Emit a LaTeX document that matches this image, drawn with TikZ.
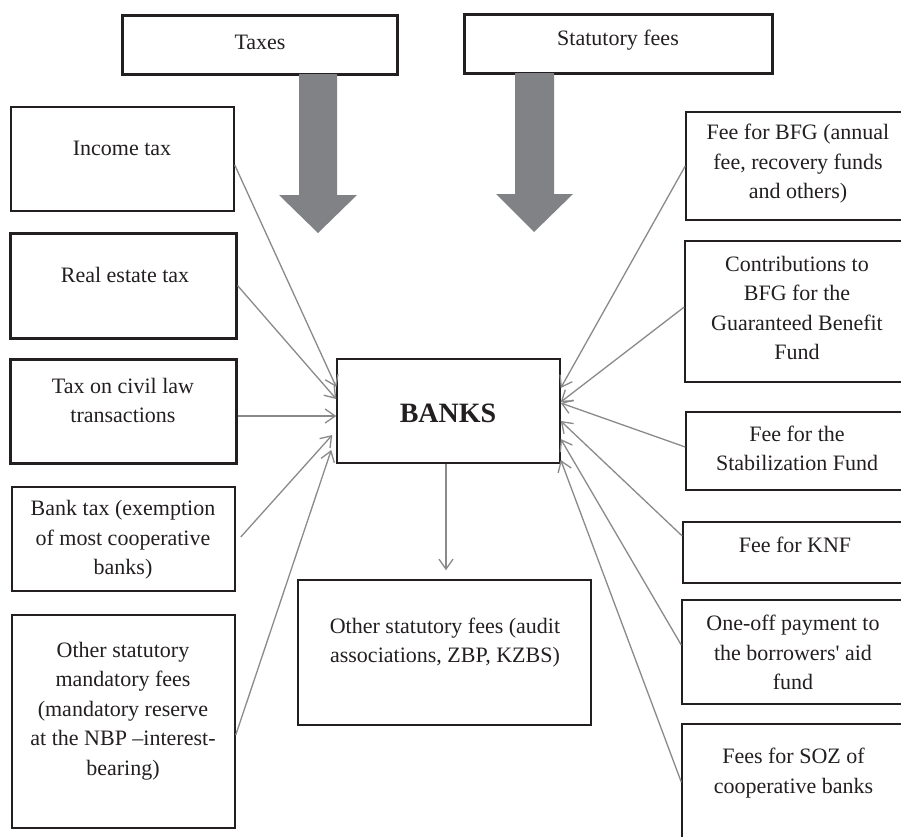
\documentclass[tikz,border=0pt]{standalone}
\usepackage{fontspec}
\setmainfont{Liberation Serif}
\usetikzlibrary{arrows.meta}
\definecolor{ink}{HTML}{231F20}
\definecolor{connc}{HTML}{8A8A8C}
\definecolor{arrowc}{HTML}{808285}
\begin{document}
\begin{tikzpicture}[x=1pt,y=-1pt,
  box/.style={draw=ink, line width=1.5pt, inner sep=0pt},
  thickbox/.style={box, line width=3pt},
  lbl/.style={text=ink, font=\fontsize{22}{29.5}\selectfont, align=center, inner sep=0pt},
  conn/.style={draw=connc, line width=1.3pt, -{Straight Barb[length=10pt,width=14pt]}},
  bigarrow/.style={fill=arrowc}]
\useasboundingbox (0,0) rectangle (901,836);
\clip (0,0) rectangle (901,836);
\fill[white] (0,0) rectangle (901,836);

% top boxes
\node[thickbox, minimum width=275pt, minimum height=59pt] (taxes) at (259.5,44.5) {};
\node[lbl] (ttaxes) at (260,42) {Taxes};
\node[thickbox, minimum width=308pt, minimum height=59pt] (stat) at (618,43.5) {};
\node[lbl] (tstat) at (618,40) {Statutory fees};

% big arrows
\fill[bigarrow] (299,74) -- (337,74) -- (337,195) -- (357,195) -- (318,233) -- (279,195) -- (299,195) -- cycle;
\fill[bigarrow] (515,73) -- (554,73) -- (554,194) -- (573,194) -- (534,232) -- (496,194) -- (515,194) -- cycle;

% left column
\node[box, minimum width=223pt, minimum height=104pt] (inc) at (122.5,159) {};
\node[lbl] (tinc) at (122,148) {Income tax};
\node[thickbox, minimum width=226pt, minimum height=105pt] (re) at (123,285.5) {};
\node[lbl] (tre) at (125,275) {Real estate tax};
\node[thickbox, minimum width=226pt, minimum height=104pt] (civ) at (123,411) {};
\node[lbl] (tciv) at (123,400.5) {Tax on civil law\\transactions};
\node[box, minimum width=223pt, minimum height=104pt] (btax) at (123.5,539) {};
\node[lbl] (tbtax) at (123,540) {Bank tax (exemption\\of most cooperative\\banks)};
\node[box, minimum width=223pt, minimum height=213pt] (oth) at (123.5,721.5) {};
\node[lbl] (toth) at (123,711) {Other statutory\\mandatory fees\\(mandatory reserve\\at the NBP –interest-\\bearing)};

% centre
\node[box, minimum width=223pt, minimum height=104pt] (bank) at (448.5,411) {};
\node[text=ink, inner sep=0pt, font=\fontsize{28}{32}\selectfont\bfseries] (tbank) at (448,413) {BANKS};
\node[box, minimum width=293pt, minimum height=145pt] (ofee) at (444.5,652.5) {};
\node[lbl] (tofee) at (445,642.5) {Other statutory fees (audit\\associations, ZBP, KZBS)};

% right column
\node[box, minimum width=224pt, minimum height=108pt] (bfg) at (798,166) {};
\node[lbl] (tbfg) at (798,164) {Fee for BFG (annual\\fee, recovery funds\\and others)};
\node[box, minimum width=225pt, minimum height=141pt] (contr) at (797.5,311.5) {};
\node[lbl] (tcontr) at (797,308) {Contributions to\\BFG for the\\Guaranteed Benefit\\Fund};
\node[box, minimum width=224pt, minimum height=78pt] (stab) at (798,451) {};
\node[lbl] (tstab) at (797,448.5) {Fee for the\\Stabilization Fund};
\node[box, minimum width=227pt, minimum height=61pt] (knf) at (796.5,552.5) {};
\node[lbl] (tknf) at (795,545) {Fee for KNF};
\node[box, minimum width=228pt, minimum height=104pt] (oneoff) at (796,652) {};
\node[lbl] (toneoff) at (793,652.5) {One-off payment to\\the borrowers\textquotesingle{} aid\\fund};
\node[box, minimum width=228pt, minimum height=126pt] (soz) at (796,787) {};
\node[lbl] (tsoz) at (793.5,773) {Fees for SOZ of\\cooperative banks};

% connectors, left
\draw[conn] ([yshift=-6pt]inc.east) -- ([yshift=24pt]bank.west);
\draw[conn] (re.east) -- ([yshift=12pt]bank.west);
\draw[conn] ([yshift=-5pt]civ.east) -- ([yshift=-5pt]bank.west);
\draw[conn] ([xshift=5pt,yshift=2pt]btax.east) -- ([xshift=-4pt,yshift=-24pt]bank.west);
\draw[conn] ([yshift=-13.5pt]oth.east) -- ([xshift=-5pt,yshift=-39pt]bank.west);

% connectors, right
\draw[conn] (bfg.west) -- ([yshift=23pt]bank.east);
\draw[conn] ([yshift=4.5pt]contr.west) -- ([yshift=9pt]bank.east);
\draw[conn] ([yshift=4pt]stab.west) -- ([yshift=8pt]bank.east);
\draw[conn] ([yshift=16.5pt]knf.west) -- ([yshift=-10pt]bank.east);
\draw[conn] ([yshift=7pt]oneoff.west) -- ([yshift=-28pt]bank.east);
\draw[conn] ([yshift=5pt]soz.west) -- ([yshift=-49pt]bank.east);

% down connector
\coordinate (dtip) at ([yshift=9pt]ofee.north);
\draw[conn] ([xshift=-2.5pt]bank.south) -- ([xshift=-2.5pt]bank.south |- dtip);
\end{tikzpicture}
\end{document}
